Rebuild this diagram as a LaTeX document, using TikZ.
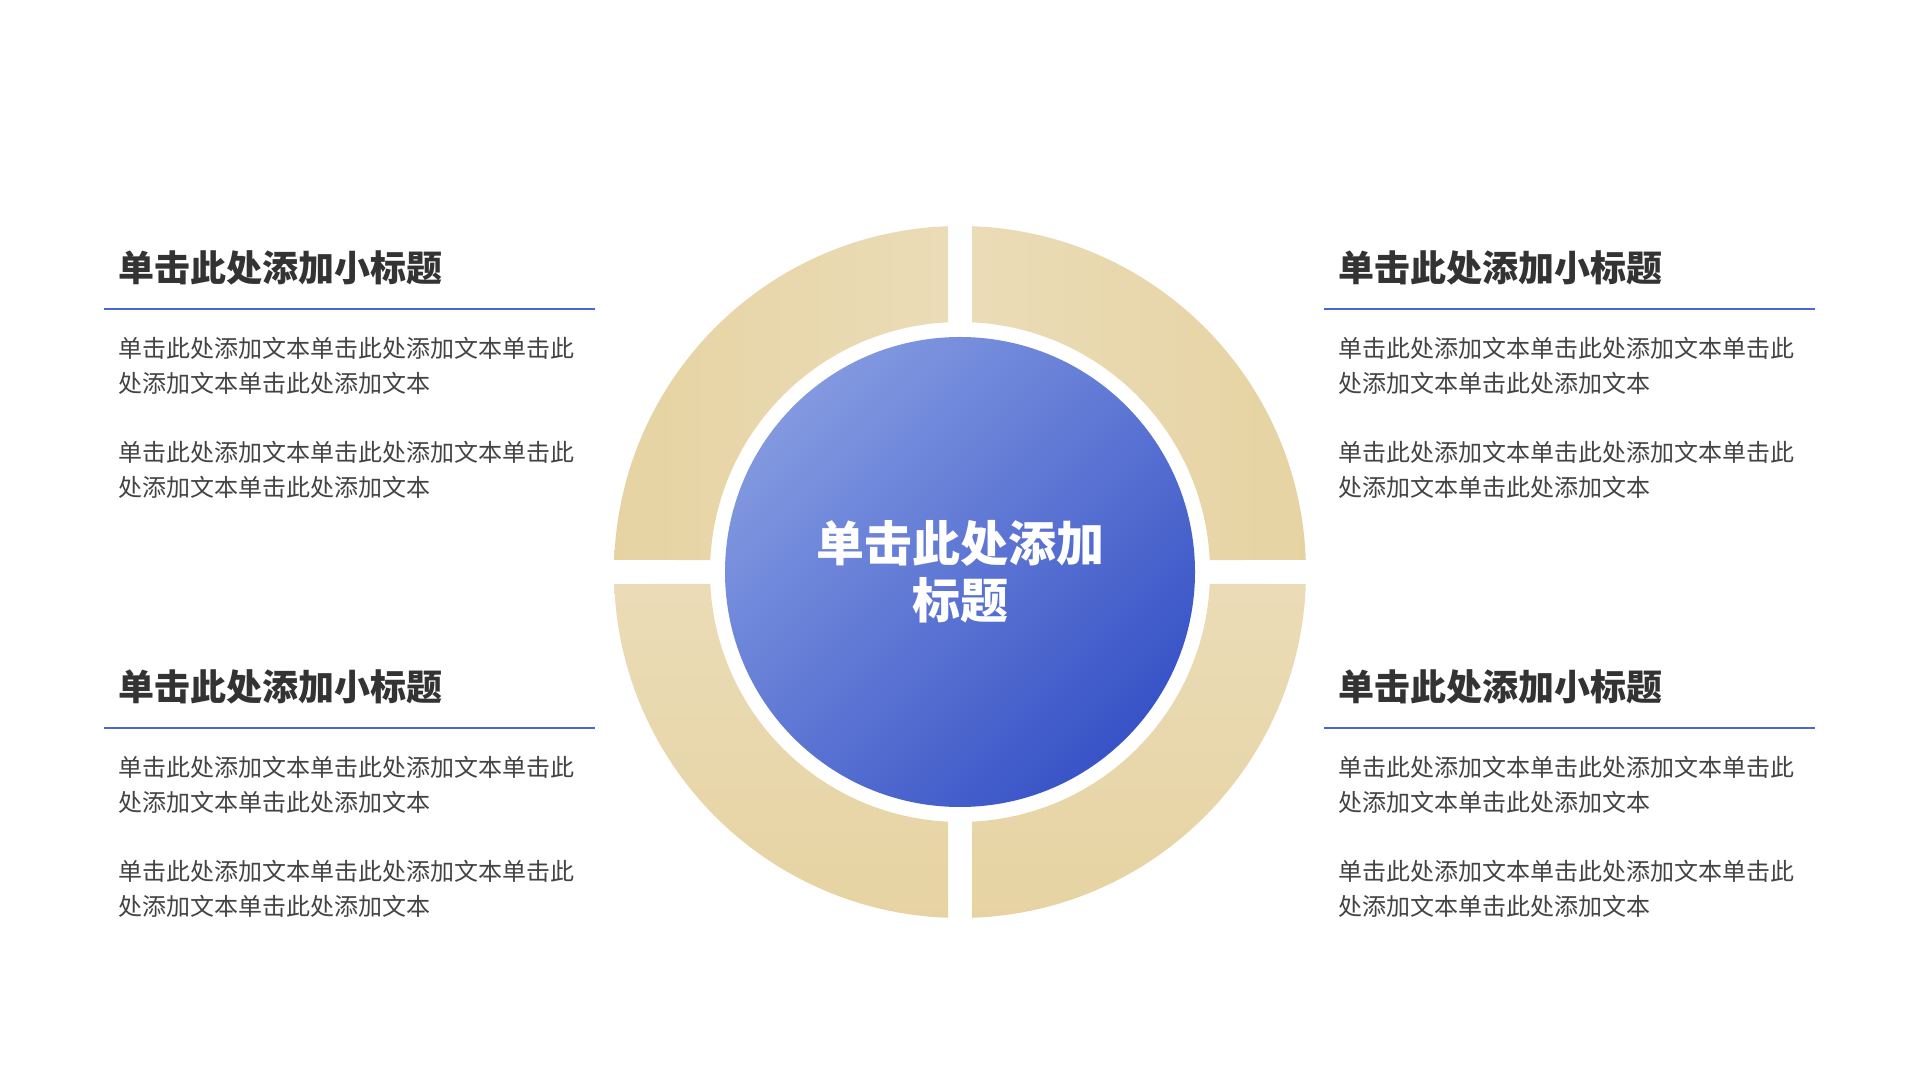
\documentclass[tikz,border=0pt]{standalone}
\usepackage{fontspec}
\setmainfont{Noto Sans CJK SC}[BoldFont={Noto Sans CJK SC Black}]
\definecolor{sand}{HTML}{E7D3A2}
\definecolor{sandlight}{HTML}{EADCB7}
\definecolor{bluelight}{HTML}{8299E0}
\definecolor{bluedark}{HTML}{3853C7}
\definecolor{ruleblue}{HTML}{4A66D0}
\definecolor{ink}{HTML}{333333}
\newcommand{\bodytxt}{单击此处添加文本单击此处添加文本单击此\\处添加文本单击此处添加文本}

\begin{document}
\begin{tikzpicture}[x=1pt, y=1pt,
    head/.style={anchor=west, inner sep=0pt, text=ink, font=\fontsize{36}{40}\selectfont\bfseries},
    body/.style={anchor=west, inner sep=0pt, align=left, text=ink!92, font=\fontsize{24}{34.5}\selectfont},
    rule/.style={ruleblue, line width=1.2pt}]
	  \useasboundingbox (0,0) rectangle (1920,1080);

	  % ring quarters
	  \begin{scope}[shift={(960,508)}]
	    \shade [left color=sand, right color=sandlight]
	      (91.99:346) arc[start angle=91.99, end angle=178.01, radius=346]
	      -- (177.25:250) arc[start angle=177.25, end angle=92.75, radius=250] -- cycle;
	    \shade [left color=sandlight, right color=sand]
	      (1.99:346) arc[start angle=1.99, end angle=88.01, radius=346]
	      -- (87.25:250) arc[start angle=87.25, end angle=2.75, radius=250] -- cycle;
	    \shade [top color=sandlight, bottom color=sand]
	      (181.99:346) arc[start angle=181.99, end angle=268.01, radius=346]
	      -- (267.25:250) arc[start angle=267.25, end angle=182.75, radius=250] -- cycle;
	    \shade [top color=sandlight, bottom color=sand]
	      (271.99:346) arc[start angle=271.99, end angle=358.01, radius=346]
	      -- (357.25:250) arc[start angle=357.25, end angle=272.75, radius=250] -- cycle;
	  \end{scope}

	  \node [circle, minimum size=470pt, inner sep=0pt, top color=bluelight, bottom color=bluedark,
	    shading angle=45, text=white, align=center, font=\fontsize{48}{57}\selectfont\bfseries]
	    (hub) at (960,508) {单击此处添加\\标题};

	  % upper left
	  \node [head] (t1)  at (118,812)   {单击此处添加小标题};
	  \coordinate (r1a) at (104,771);
	  \coordinate (r1b) at (595,771);
	  \draw [rule] (r1a) -- (r1b);
	  \node [body] (p1a) at (118,714) {\bodytxt};
	  \node [body] (p1b) at (118,610) {\bodytxt};

	  % upper right
	  \node [head] (t2)  at (1338,812)   {单击此处添加小标题};
	  \coordinate (r2a) at (1324,771);
	  \coordinate (r2b) at (1815,771);
	  \draw [rule] (r2a) -- (r2b);
	  \node [body] (p2a) at (1338,714) {\bodytxt};
	  \node [body] (p2b) at (1338,610) {\bodytxt};

	  % lower left
	  \node [head] (t3)  at (118,393)   {单击此处添加小标题};
	  \coordinate (r3a) at (104,352);
	  \coordinate (r3b) at (595,352);
	  \draw [rule] (r3a) -- (r3b);
	  \node [body] (p3a) at (118,295) {\bodytxt};
	  \node [body] (p3b) at (118,191) {\bodytxt};

	  % lower right
	  \node [head] (t4)  at (1338,393)   {单击此处添加小标题};
	  \coordinate (r4a) at (1324,352);
	  \coordinate (r4b) at (1815,352);
	  \draw [rule] (r4a) -- (r4b);
	  \node [body] (p4a) at (1338,295) {\bodytxt};
	  \node [body] (p4b) at (1338,191) {\bodytxt};
	\end{tikzpicture}
\end{document}
